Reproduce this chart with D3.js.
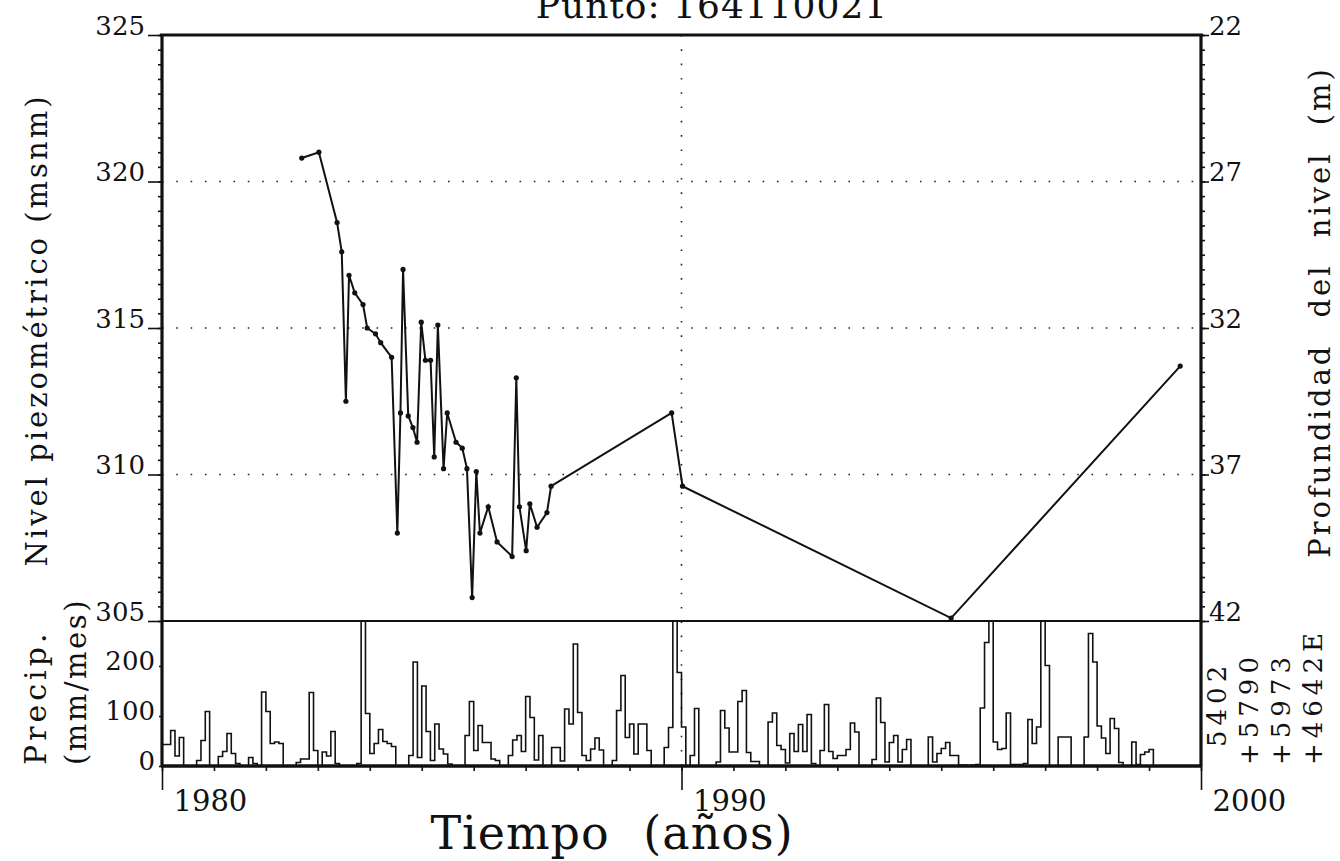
<!DOCTYPE html>
<html>
<head>
<meta charset="utf-8">
<script src="https://cdn.jsdelivr.net/npm/d3@7"></script>
<style>
  body { margin: 0; background: #fff; }
  svg text { font-family: "DejaVu Serif", serif; fill: #111; }
</style>
</head>
<body>
<svg id="chart" width="1340" height="861"></svg>
<script>
// nivel piezometrico, fechas en años decimales
const levelDates = [1982.69, 1983.02, 1983.37, 1983.46, 1983.54, 1983.60, 1983.71, 1983.87, 1983.95,
  1984.11, 1984.21, 1984.42, 1984.53, 1984.59, 1984.64, 1984.74, 1984.83, 1984.91, 1984.99,
  1985.07, 1985.17, 1985.24, 1985.31, 1985.42, 1985.49, 1985.66, 1985.78, 1985.87, 1985.97,
  1986.05, 1986.12, 1986.28, 1986.45, 1986.74, 1986.82, 1986.88, 1987.01, 1987.08, 1987.22,
  1987.41, 1987.49, 1989.81, 1990.02, 1995.19, 1999.60];
const levelValues = [320.8, 321.0, 318.6, 317.6, 312.5, 316.8, 316.2, 315.8, 315.0,
  314.8, 314.5, 314.0, 308.0, 312.1, 317.0, 312.0, 311.6, 311.1, 315.2,
  313.9, 313.9, 310.6, 315.1, 310.2, 312.1, 311.1, 310.9, 310.2, 305.8,
  310.1, 308.0, 308.9, 307.7, 307.2, 313.3, 308.9, 307.4, 309.0, 308.2,
  308.7, 309.6, 312.1, 309.6, 305.1, 313.7];

// precipitacion mensual (mm/mes) desde enero 1980
const precipStart = 1980;
const precipMonthly = [
  43, 43, 71, 20, 57, 0, 0, 0, 11, 51, 109, 0,
  0, 19, 29, 65, 25, 5, 0, 0, 17, 5, 0, 148,
  109, 45, 48, 45, 0, 0, 0, 7, 14, 14, 147, 31,
  0, 28, 20, 69, 5, 0, 0, 0, 0, 5, 320, 105,
  25, 45, 73, 49, 45, 39, 0, 0, 0, 21, 208, 17,
  160, 69, 11, 84, 34, 24, 4, 0, 0, 0, 61, 129,
  31, 81, 47, 47, 14, 11, 0, 0, 21, 52, 61, 29,
  139, 97, 12, 61, 0, 0, 37, 37, 10, 114, 84, 244,
  107, 21, 11, 34, 56, 32, 0, 0, 11, 111, 181, 57,
  84, 24, 84, 84, 31, 0, 0, 0, 37, 77, 320, 187,
  78, 0, 21, 115, 0, 0, 0, 0, 8, 111, 76, 28,
  28, 129, 151, 27, 9, 9, 0, 0, 88, 106, 41, 33,
  6, 65, 29, 83, 29, 103, 5, 0, 31, 123, 29, 15,
  21, 21, 33, 86, 68, 0, 0, 0, 13, 136, 87, 8,
  47, 61, 8, 33, 53, 0, 0, 0, 0, 58, 8, 25,
  35, 47, 21, 21, 2, 2, 1, 2, 3, 116, 247, 320,
  48, 33, 35, 106, 3, 3, 3, 5, 93, 45, 78, 320,
  201, 0, 0, 58, 58, 58, 0, 0, 0, 58, 265, 208,
  80, 56, 25, 95, 75, 7, 0, 0, 48, 3, 23, 28,
  33
];

const levelTicks = [305, 310, 315, 320, 325];
const depthTicks = [22, 27, 32, 37, 42];
const precipTicks = [0, 100, 200];
const yearLabels = [1980, 1990, 2000];
const coordLines = ["5402", "+5790", "+5973", "+4642E"];

const svg = d3.select("#chart");

const x = d3.scaleLinear().domain([1980, 2000]).range([162, 1201]);
const y = d3.scaleLinear().domain([305, 325]).range([621, 35]);
const yDepth = d3.scaleLinear().domain([42, 22]).range([621, 35]);
const yP = d3.scaleLinear().domain([0, 290]).range([766, 621]);

// titulo (cortado arriba)
svg.append("text")
  .attr("x", 712).attr("y", 18)
  .attr("text-anchor", "middle")
  .style("font-size", "36px")
  .style("letter-spacing", "1px")
  .text("Punto: 164110021");

// cuadricula punteada
svg.append("g").selectAll("line")
  .data([310, 315, 320])
  .enter().append("line")
  .attr("x1", x(1980)).attr("x2", x(2000))
  .attr("y1", d => y(d)).attr("y2", d => y(d))
  .attr("stroke", "#222").attr("stroke-width", 1.6)
  .attr("stroke-dasharray", "1.6,12.7");

svg.append("line")
  .attr("x1", x(1990)).attr("x2", x(1990))
  .attr("y1", y(325)).attr("y2", yP(0))
  .attr("stroke", "#222").attr("stroke-width", 1.6)
  .attr("stroke-dasharray", "1.6,12.7");

// precipitacion en escalera
const clip = svg.append("clipPath").attr("id", "pclip");
clip.append("rect")
  .attr("x", x(1980)).attr("y", yP(290))
  .attr("width", x(2000) - x(1980)).attr("height", yP(0) - yP(290));

const steps = [[precipStart, 0]];
precipMonthly.forEach((v, i) => steps.push([precipStart + i / 12, v]));
steps.push([precipStart + precipMonthly.length / 12, 0]);

svg.append("path")
  .datum(steps)
  .attr("clip-path", "url(#pclip)")
  .attr("fill", "none")
  .attr("stroke", "#111")
  .attr("stroke-width", 1.6)
  .attr("d", d3.line().curve(d3.curveStepAfter)
    .x(d => x(d[0])).y(d => yP(d[1])));

// serie de nivel
const level = levelDates.map((d, i) => [d, levelValues[i]]);

svg.append("path")
  .datum(level)
  .attr("fill", "none")
  .attr("stroke", "#111")
  .attr("stroke-width", 2)
  .attr("d", d3.line().x(d => x(d[0])).y(d => y(d[1])));

svg.append("g").selectAll("circle")
  .data(level)
  .enter().append("circle")
  .attr("cx", d => x(d[0])).attr("cy", d => y(d[1]))
  .attr("r", 2.6).attr("fill", "#111");

// marco
const frame = svg.append("g").attr("stroke", "#111").attr("fill", "none");
frame.append("line").attr("x1", x(1980) - 2).attr("x2", x(2000) + 2)
  .attr("y1", y(325)).attr("y2", y(325)).attr("stroke-width", 3.2);
frame.append("line").attr("x1", x(1980)).attr("x2", x(1980))
  .attr("y1", y(325)).attr("y2", yP(0)).attr("stroke-width", 3.2);
frame.append("line").attr("x1", x(2000)).attr("x2", x(2000))
  .attr("y1", y(325)).attr("y2", yP(0)).attr("stroke-width", 3.2);
frame.append("line").attr("x1", x(1980)).attr("x2", x(2000))
  .attr("y1", y(305)).attr("y2", y(305)).attr("stroke-width", 1.8);
frame.append("line").attr("x1", x(1980) - 1).attr("x2", x(2000) + 1)
  .attr("y1", yP(0)).attr("y2", yP(0)).attr("stroke-width", 3.4);

function styleAxis(g) {
  g.select(".domain").remove();
  g.selectAll("line").attr("stroke", "#111").attr("stroke-width", 1.6);
  g.selectAll("text").attr("font-family", "DejaVu Serif").attr("fill", "#111");
}

// eje izquierdo: ticks menores cada 0.5
svg.append("g")
  .attr("transform", `translate(${x(1980)},0)`)
  .call(d3.axisLeft(y).tickValues(d3.range(305, 325.01, 0.5)).tickSize(4).tickFormat(""))
  .call(styleAxis);

svg.append("g")
  .attr("transform", `translate(${x(1980)},0)`)
  .call(d3.axisLeft(y).tickValues(levelTicks).tickSize(14).tickPadding(3))
  .call(styleAxis)
  .call(g => g.selectAll("text").attr("dy", "-1").style("font-size", "26px"));

// eje derecho: profundidad
svg.append("g")
  .attr("transform", `translate(${x(2000)},0)`)
  .call(d3.axisRight(yDepth).tickValues(d3.range(22, 42.01, 0.5)).tickSize(4).tickFormat(""))
  .call(styleAxis);

svg.append("g")
  .attr("transform", `translate(${x(2000)},0)`)
  .call(d3.axisRight(yDepth).tickValues(depthTicks).tickSize(8).tickPadding(0))
  .call(styleAxis)
  .call(g => g.selectAll("text").attr("dy", "-1").style("font-size", "26px"));

// eje precipitacion
svg.append("g")
  .attr("transform", `translate(${x(1980)},0)`)
  .call(d3.axisLeft(yP).tickValues(precipTicks).tickSize(3).tickPadding(4))
  .call(styleAxis)
  .call(g => g.selectAll("text").attr("dy", "0.12em").style("font-size", "26px"));

// eje de tiempo
svg.append("g")
  .attr("transform", `translate(0,${yP(0)})`)
  .call(d3.axisBottom(x).ticks(20).tickSize(5).tickFormat(""))
  .call(styleAxis);

svg.append("g")
  .attr("transform", `translate(0,${yP(0)})`)
  .call(d3.axisBottom(x).tickValues(yearLabels).tickSize(24).tickFormat(d3.format("d")))
  .call(styleAxis)
  .call(g => g.selectAll("text")
    .attr("text-anchor", "start").attr("x", 11).attr("y", 45).attr("dy", 0)
    .style("font-size", "29px"));

// titulos de ejes
svg.append("text")
  .attr("transform", "translate(47,330) rotate(-90)")
  .attr("text-anchor", "middle")
  .style("font-size", "29px")
  .style("letter-spacing", "3px")
  .text("Nivel piezométrico (msnm)");

svg.append("text")
  .attr("transform", "translate(1330,312) rotate(-90)")
  .attr("text-anchor", "middle")
  .style("font-size", "29px")
  .style("letter-spacing", "3px")
  .style("word-spacing", "14px")
  .text("Profundidad del nivel (m)");

svg.append("text")
  .attr("transform", "translate(46,765) rotate(-90)")
  .attr("text-anchor", "start")
  .style("font-size", "30px")
  .style("letter-spacing", "4px")
  .text("Precip.");

svg.append("text")
  .attr("transform", "translate(86,765) rotate(-90)")
  .attr("text-anchor", "start")
  .style("font-size", "29px")
  .style("letter-spacing", "2.5px")
  .text("(mm/mes)");

svg.append("text")
  .attr("x", 612).attr("y", 849)
  .attr("text-anchor", "middle")
  .style("font-size", "46px")
  .style("letter-spacing", "1px")
  .style("word-spacing", "18px")
  .text("Tiempo (años)");

// coordenadas
svg.append("g").selectAll("text")
  .data(coordLines)
  .enter().append("text")
  .attr("transform", (d, i) => `translate(${1226 + i * 32},${i === 0 ? 747 : 765}) rotate(-90)`)
  .style("font-size", "26px")
  .style("letter-spacing", "5px")
  .text(d => d);
</script>
</body>
</html>
